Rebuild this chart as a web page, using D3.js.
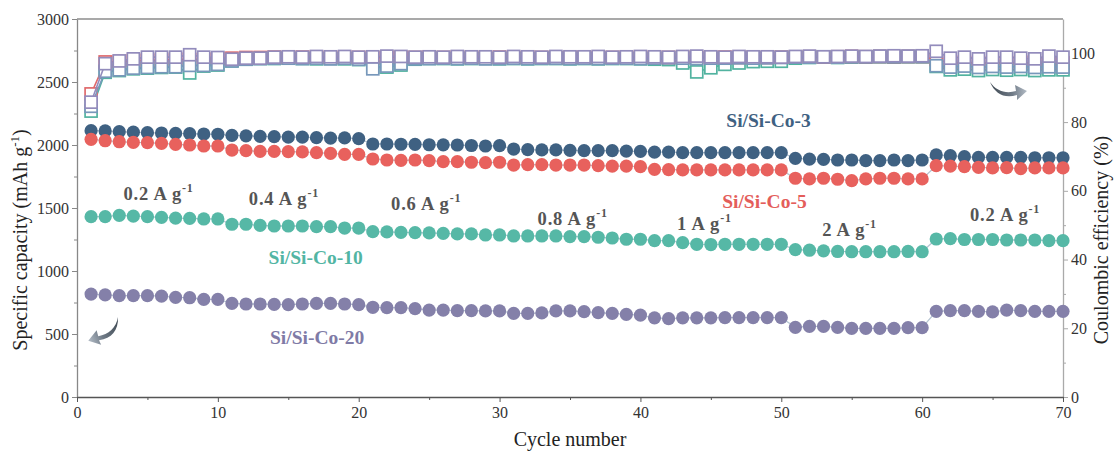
<!DOCTYPE html>
<html>
<head>
<meta charset="utf-8">
<script src="https://cdn.jsdelivr.net/npm/d3@7"></script>
<style>
  html, body { margin: 0; padding: 0; background: #fff; }
  svg { display: block; font-family: "Liberation Serif", "Times New Roman", serif; }
  svg text { font-family: "Liberation Serif", "Times New Roman", serif; }
</style>
</head>
<body>
<svg id="chart" width="1115" height="452"></svg>
<script>
// Rate capability of Si/Si-Co electrodes: specific capacity (filled circles)
// and coulombic efficiency (open squares) over 70 cycles.
const cycles = d3.range(1, 71);

const capCo3 = [2114, 2112, 2106, 2102, 2098, 2095, 2092, 2090, 2087, 2085,
  2077, 2073, 2069, 2066, 2063, 2063, 2058, 2055, 2056, 2050,
  2008, 2008, 2006, 2005, 2002, 2001, 2000, 1996, 1992, 1995,
  1968, 1963, 1961, 1961, 1958, 1955, 1955, 1955, 1952, 1950,
  1944, 1944, 1939, 1939, 1939, 1939, 1939, 1939, 1939, 1939,
  1894, 1888, 1886, 1881, 1881, 1876, 1876, 1881, 1876, 1881,
  1921, 1915, 1907, 1902, 1902, 1902, 1902, 1899, 1899, 1899];

const capCo5 = [2045, 2034, 2026, 2021, 2019, 2013, 2005, 2000, 1992, 1992,
  1960, 1955, 1950, 1950, 1947, 1945, 1939, 1934, 1926, 1926,
  1889, 1881, 1878, 1881, 1876, 1868, 1868, 1863, 1860, 1863,
  1841, 1844, 1844, 1841, 1841, 1841, 1836, 1833, 1833, 1828,
  1807, 1805, 1802, 1802, 1802, 1802, 1802, 1802, 1802, 1802,
  1736, 1731, 1736, 1728, 1717, 1731, 1736, 1736, 1731, 1731,
  1836, 1833, 1828, 1823, 1818, 1820, 1812, 1818, 1818, 1818];

const capCo10 = [1431, 1431, 1442, 1436, 1431, 1426, 1420, 1418, 1413, 1413,
  1371, 1371, 1362, 1357, 1357, 1357, 1352, 1352, 1341, 1341,
  1312, 1310, 1307, 1304, 1302, 1299, 1294, 1294, 1286, 1286,
  1278, 1278, 1278, 1278, 1273, 1273, 1268, 1262, 1252, 1252,
  1241, 1241, 1225, 1212, 1210, 1212, 1212, 1212, 1212, 1212,
  1170, 1165, 1160, 1155, 1153, 1153, 1153, 1153, 1155, 1153,
  1254, 1257, 1250, 1250, 1250, 1246, 1246, 1246, 1241, 1241];

const capCo20 = [817, 810, 804, 804, 804, 801, 791, 788, 775, 775,
  743, 738, 738, 735, 733, 738, 743, 743, 738, 733,
  712, 709, 709, 701, 690, 690, 685, 685, 683, 683,
  664, 664, 667, 683, 683, 677, 669, 664, 656, 650,
  628, 622, 628, 628, 628, 630, 630, 630, 630, 630,
  553, 561, 561, 553, 545, 545, 545, 545, 550, 550,
  680, 685, 685, 680, 675, 690, 685, 680, 680, 680];

const ceCo3 = [84.6, 94.8, 95.2, 95.7, 95.9, 96.1, 96.1, 96.5, 96.5, 96.8,
  97.8, 98.3, 98.5, 98.6, 98.6, 98.5, 98.6, 98.4, 98.6, 98.3,
  95.5, 96.3, 97.0, 98.4, 98.5, 98.6, 98.5, 98.6, 98.4, 98.5,
  98.6, 98.5, 98.6, 98.6, 98.5, 98.6, 98.5, 98.6, 98.6, 98.5,
  98.6, 98.7, 98.6, 98.5, 98.6, 98.6, 98.7, 98.6, 98.7, 98.8,
  98.9, 98.9, 99.0, 98.9, 99.0, 99.0, 99.1, 99.0, 99.1, 99.1,
  96.4, 96.0, 96.3, 95.9, 96.2, 96.0, 96.2, 95.9, 96.1, 96.0];

const ceCo5 = [88.2, 97.5, 97.6, 97.9, 98.0, 98.0, 98.3, 98.2, 98.3, 98.5,
  98.6, 98.8, 98.8, 98.9, 98.8, 98.9, 98.9, 98.8, 98.9, 98.8,
  98.7, 98.9, 98.8, 98.8, 98.9, 98.8, 98.9, 98.8, 98.8, 98.9,
  98.8, 98.9, 98.8, 98.7, 98.8, 98.9, 98.8, 98.8, 98.9, 98.8,
  98.9, 98.8, 98.9, 98.8, 98.8, 98.9, 98.8, 98.9, 98.8, 98.9,
  98.9, 99.0, 98.9, 99.0, 99.1, 99.0, 99.1, 99.0, 99.1, 99.1,
  98.2, 97.2, 97.4, 97.1, 97.3, 97.2, 97.4, 97.1, 97.3, 97.2];

const ceCo10 = [83.2, 94.5, 95.0, 95.5, 95.7, 95.9, 96.0, 94.3, 96.3, 96.6,
  97.8, 98.3, 98.5, 98.5, 98.6, 98.5, 98.4, 98.5, 98.4, 98.2,
  96.0, 96.0, 96.6, 98.3, 98.5, 98.5, 98.4, 98.5, 98.5, 98.4,
  98.5, 98.4, 98.5, 98.5, 98.4, 98.5, 98.4, 98.5, 98.5, 98.4,
  98.3, 98.2, 97.2, 94.6, 95.8, 96.8, 97.2, 97.6, 97.7, 97.7,
  98.6, 98.8, 98.9, 98.8, 98.9, 98.9, 99.0, 98.9, 99.0, 99.0,
  96.2, 95.2, 95.4, 95.0, 95.3, 95.1, 95.3, 95.0, 95.2, 95.2];

const ceCo20 = [85.8, 97.0, 97.8, 98.4, 98.9, 98.9, 98.9, 99.6, 98.9, 98.8,
  98.3, 98.6, 98.6, 98.9, 99.0, 98.9, 99.1, 99.0, 99.1, 98.9,
  99.0, 99.2, 99.1, 98.9, 99.0, 98.9, 99.1, 99.0, 99.0, 98.9,
  99.1, 99.0, 98.9, 99.1, 99.0, 99.0, 99.1, 98.9, 99.0, 99.1,
  99.0, 98.9, 99.1, 99.2, 99.0, 98.9, 99.1, 99.0, 99.0, 98.9,
  99.1, 99.2, 99.0, 99.1, 99.2, 99.1, 99.2, 99.3, 99.2, 99.3,
  100.6, 98.6, 98.9, 98.4, 98.9, 98.9, 98.6, 98.4, 99.2, 98.9];

const xTicks = [0, 10, 20, 30, 40, 50, 60, 70];
const yLeftTicks = [0, 500, 1000, 1500, 2000, 2500, 3000];
const yRightTicks = [0, 20, 40, 60, 80, 100];

// Current-density labels: [cycle position, capacity position, rate text]
const rateLabels = [
  [3.3, 1560, "0.2"], [12.2, 1525, "0.4"], [22.3, 1485, "0.6"],
  [32.7, 1365, "0.8"], [42.6, 1325, "1"], [52.9, 1275, "2"], [63.4, 1400, "0.2"]
];

const seriesLabels = [
  ["Si/Si-Co-3", 46.1, 2145, "#3f6182"],
  ["Si/Si-Co-5", 45.8, 1500, "#e45d5a"],
  ["Si/Si-Co-10", 13.6, 1055, "#52b5a3"],
  ["Si/Si-Co-20", 13.7, 420, "#7f7ba6"]
];

const capSeries = [
  { values: capCo3, color: "#3f6182" },
  { values: capCo5, color: "#e8615d" },
  { values: capCo10, color: "#56b8a6" },
  { values: capCo20, color: "#8480a9" }
];
const ceSeries = [
  { values: ceCo10, color: "#52b3a0" },
  { values: ceCo5, color: "#e06a6c" },
  { values: ceCo3, color: "#7898bb" },
  { values: ceCo20, color: "#938cbc" }
];

const svg = d3.select("#chart");
const plotLeft = 77, plotRight = 1063, plotTop = 19, plotBottom = 397;
const serif = '"Liberation Serif", "Times New Roman", serif';

const x = d3.scaleLinear().domain([0, 70]).range([plotLeft, plotRight]);
const yL = d3.scaleLinear().domain([0, 3000]).range([plotBottom, plotTop]);
const yR = d3.scaleLinear().domain([0, 110]).range([plotBottom, plotTop]);

// Frame: top border line
svg.append("line").attr("x1", plotLeft).attr("x2", plotRight)
  .attr("y1", plotTop).attr("y2", plotTop)
  .attr("stroke", "#555").attr("stroke-width", 1.2);

function styleAxis(g, color) {
  g.attr("font-family", null).style("font-family", serif).attr("font-size", 16);
  g.select(".domain").attr("stroke", color).attr("stroke-width", 1.3);
  g.selectAll(".tick line").attr("stroke", color).attr("stroke-width", 1);
  g.selectAll(".tick text").attr("fill", "#333").style("font-family", serif);
}

// Minor ticks
svg.append("g").attr("transform", `translate(${plotLeft},0)`)
  .call(d3.axisLeft(yL).tickValues(d3.range(250, 3000, 500)).tickSize(3).tickFormat(""))
  .call(g => { g.select(".domain").remove(); g.selectAll("line").attr("stroke", "#888"); });
svg.append("g").attr("transform", `translate(${plotRight},0)`)
  .call(d3.axisRight(yR).tickValues([10, 30, 50, 70, 90]).tickSize(3).tickFormat(""))
  .call(g => { g.select(".domain").remove(); g.selectAll("line").attr("stroke", "#aaa"); });
svg.append("g").attr("transform", `translate(0,${plotBottom})`)
  .call(d3.axisBottom(x).tickValues(d3.range(5, 70, 10)).tickSize(3).tickFormat(""))
  .call(g => { g.select(".domain").remove(); g.selectAll("line").attr("stroke", "#555"); });

// Major axes
const fmt = d3.format("d");
svg.append("g").attr("transform", `translate(${plotLeft},0)`)
  .call(d3.axisLeft(yL).tickValues(yLeftTicks).tickFormat(fmt)
    .tickSize(5).tickPadding(3).tickSizeOuter(0))
  .call(g => styleAxis(g, "#888"));
svg.append("g").attr("transform", `translate(${plotRight},0)`)
  .call(d3.axisRight(yR).tickValues(yRightTicks).tickFormat(fmt)
    .tickSize(5).tickPadding(3).tickSizeOuter(0))
  .call(g => styleAxis(g, "#aaa"));
svg.append("g").attr("transform", `translate(0,${plotBottom})`)
  .call(d3.axisBottom(x).tickValues(xTicks).tickFormat(fmt)
    .tickSize(5).tickPadding(5).tickSizeOuter(0))
  .call(g => styleAxis(g, "#555"));

// Axis titles
svg.append("text").attr("x", (plotLeft + plotRight) / 2).attr("y", 446)
  .attr("text-anchor", "middle").attr("font-size", 20).attr("fill", "#222")
  .text("Cycle number");

const yTitle = svg.append("text")
  .attr("transform", "translate(27,240) rotate(-90)")
  .attr("text-anchor", "middle").attr("font-size", 20).attr("fill", "#222");
yTitle.append("tspan").text("Specific capacity (mAh g");
yTitle.append("tspan").attr("dy", -8).attr("font-size", 13).text("-1");
yTitle.append("tspan").attr("dy", 8).text(")");

svg.append("text").attr("transform", "translate(1108,240) rotate(-90)")
  .attr("text-anchor", "middle").attr("font-size", 20).attr("fill", "#222")
  .text("Coulombic efficiency (%)");

// Coulombic efficiency: open squares joined by lines
const ceLine = d3.line().x((d, i) => x(cycles[i])).y(d => yR(d));
const sq = 12;
ceSeries.forEach(s => {
  const g = svg.append("g");
  g.append("path").datum(s.values).attr("d", ceLine)
    .attr("fill", "none").attr("stroke", s.color).attr("stroke-width", 1.6);
  g.selectAll("rect").data(s.values).join("rect")
    .attr("x", (d, i) => x(cycles[i]) - sq / 2)
    .attr("y", d => yR(d) - sq / 2)
    .attr("width", sq).attr("height", sq)
    .attr("fill", "#fff").attr("stroke", s.color).attr("stroke-width", 1.7);
});

// Specific capacity: filled circles joined by light lines
const capLine = d3.line().x((d, i) => x(cycles[i])).y(d => yL(d));
capSeries.forEach(s => {
  const g = svg.append("g");
  g.append("path").datum(s.values).attr("d", capLine)
    .attr("fill", "none").attr("stroke", "#b7c6d3").attr("stroke-width", 1.3);
  g.selectAll("circle").data(s.values).join("circle")
    .attr("cx", (d, i) => x(cycles[i]))
    .attr("cy", d => yL(d))
    .attr("r", 6.6)
    .attr("fill", s.color);
});

// Current-density annotations
rateLabels.forEach(([c, v, r]) => {
  const t = svg.append("text").attr("x", x(c)).attr("y", yL(v))
    .attr("font-size", 18.5).attr("font-weight", "bold").attr("fill", "#555")
    .attr("letter-spacing", 0.8);
  t.append("tspan").text(`${r} A g`);
  t.append("tspan").attr("dy", -8).attr("font-size", 12).text("-1");
});

// Sample labels
seriesLabels.forEach(([label, c, v, color]) => {
  svg.append("text").attr("x", x(c)).attr("y", yL(v))
    .attr("font-size", 19.5).attr("font-weight", "bold").attr("fill", color)
    .text(label);
});

// Curved arrows marking which axis each data set belongs to
const defs = svg.append("defs");
const grad = defs.append("linearGradient").attr("id", "arrowGrad")
  .attr("x1", "0%").attr("x2", "100%").attr("y1", "0%").attr("y2", "0%");
grad.append("stop").attr("offset", "0%").attr("stop-color", "#3e4852");
grad.append("stop").attr("offset", "60%").attr("stop-color", "#6f7a86");
grad.append("stop").attr("offset", "100%").attr("stop-color", "#b3bcc6");

const arrowPath = "M0,0 C6,9 16,12 26,9 L25,3 L37,9 L27,18 L27,13 C15,17 5,12 0,0 Z";
svg.append("path").attr("d", arrowPath).attr("fill", "url(#arrowGrad)")
  .attr("transform", "translate(990,82)");
svg.append("path").attr("d", arrowPath).attr("fill", "url(#arrowGrad)")
  .attr("transform", "translate(118,317) scale(-1,1) rotate(25)");
</script>
</body>
</html>
